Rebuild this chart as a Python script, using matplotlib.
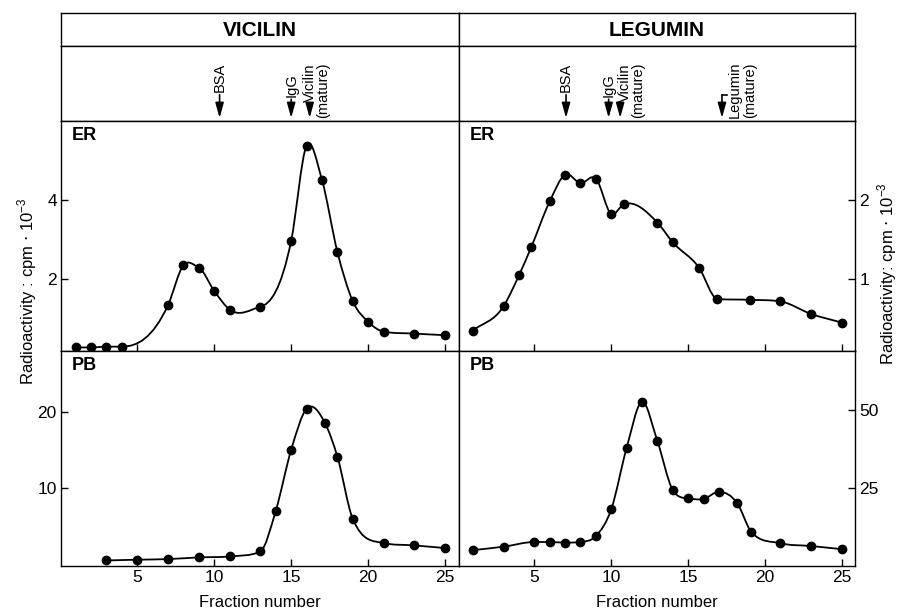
import matplotlib.pyplot as plt
from matplotlib.path import Path
from matplotlib.patches import PathPatch

plt.rcParams['font.family'] = ['Liberation Sans', 'DejaVu Sans']

# values (fraction number, cpm x 10^-3)
vic_er_x = [1, 2, 3, 4, 7, 8, 9, 10, 11, 13, 15, 16, 17, 18, 19, 20, 21, 23, 25]
vic_er_y = [0.27, 0.27, 0.29, 0.29, 1.34, 2.35, 2.29, 1.70, 1.23, 1.30, 2.97, 5.38,
            4.51, 2.69, 1.44, 0.92, 0.67, 0.62, 0.58]

vic_pb_x = [3, 5, 7, 9, 11, 13, 14, 15, 16, 17.2, 18, 19, 21, 23, 25]
vic_pb_y = [0.43, 0.53, 0.61, 0.83, 0.96, 1.62, 6.97, 15.0, 20.4, 18.5, 14.1, 5.9,
            2.72, 2.41, 2.06]

leg_er_x = [1, 3, 4, 4.8, 6, 7, 8, 9, 10, 10.8, 13, 14, 15.7, 16.9, 19, 21, 23, 25]
leg_er_y = [0.34, 0.65, 1.04, 1.40, 1.98, 2.32, 2.21, 2.27, 1.82, 1.94, 1.71, 1.46,
            1.14, 0.74, 0.73, 0.71, 0.55, 0.44]

leg_pb_x = [1, 3, 5, 6, 7, 8, 9, 10, 11, 12, 13, 14, 15, 16, 17, 18.2, 19.1, 21, 23, 25]
leg_pb_y = [5.1, 6.2, 7.7, 7.7, 7.5, 7.7, 9.6, 18.2, 37.9, 52.7, 40.1, 24.4, 21.7,
            21.5, 23.8, 20.1, 11.0, 7.3, 6.4, 5.4]

# marker positions (fraction number)
vic_markers = {'BSA': 10.35, 'IgG': 15.0, 'Vicilin': 16.2}
leg_markers = {'BSA': 7.06, 'IgG': 9.83, 'Vicilin': 10.58, 'Legumin': 17.2}


def smooth_path(x, y):
    # cubic hermite bezier through every point, slopes from neighbouring secants
    n = len(x)
    h = [x[i + 1] - x[i] for i in range(n - 1)]
    d = [(y[i + 1] - y[i]) / h[i] for i in range(n - 1)]
    m = [d[0]]
    for i in range(1, n - 1):
        s = (h[i] * d[i - 1] + h[i - 1] * d[i]) / (h[i - 1] + h[i])
        if d[i - 1] * d[i] > 0:
            # no wiggles on the monotone stretches
            lim = 3 * min(abs(d[i - 1]), abs(d[i]))
            s = max(-lim, min(lim, s))
        elif d[i - 1] == 0 or d[i] == 0:
            s = 0.0
        m.append(s)
    m.append(d[-1])
    verts = [(x[0], y[0])]
    codes = [Path.MOVETO]
    for i in range(n - 1):
        verts += [(x[i] + h[i] / 3, y[i] + m[i] * h[i] / 3),
                  (x[i + 1] - h[i] / 3, y[i + 1] - m[i + 1] * h[i] / 3),
                  (x[i + 1], y[i + 1])]
        codes += [Path.CURVE4] * 3
    return Path(verts, codes)


def draw_series(ax, x, y):
    ax.add_patch(PathPatch(smooth_path(x, y), fill=False, lw=1.3, ec='k'))
    ax.plot(x, y, 'o', color='k', ms=6, clip_on=False)


fig = plt.figure(figsize=(8.98, 6.13), dpi=100)

L0, MID, R1 = 61 / 898, 459 / 898, 855 / 898
W = MID - L0
W2 = R1 - MID
hdr_b, hdr_h = 1 - 46 / 613, 33 / 613
arr_b, arr_h = 1 - 121 / 613, 75 / 613
er_b, er_h = 1 - 351 / 613, 230 / 613
pb_b, pb_h = 1 - 566 / 613, 215 / 613

xl_left = (0.05, 25.9)
xl_right = (0.1, 25.85)
lab_fs = 10.5

cols = [(L0, W, 'VICILIN', xl_left, vic_markers, (0.05, 0.9)),
        (MID, W2, 'LEGUMIN', xl_right, leg_markers, (0.3, 1.2))]
for left, width, title, xl, markers, voff in cols:
    hax = fig.add_axes([left, hdr_b, width, hdr_h])
    hax.set_xticks([])
    hax.set_yticks([])
    hax.text(0.5, 0.48, title, ha='center', va='center', fontsize=15,
             fontweight='bold', transform=hax.transAxes)

    aax = fig.add_axes([left, arr_b, width, arr_h])
    aax.set_xlim(*xl)
    aax.set_ylim(0, 1)
    aax.set_xticks([])
    aax.set_yticks([])
    tr = aax.get_xaxis_transform()
    tops = {'BSA': 0.35, 'IgG': 0.29, 'Vicilin': 0.24, 'Legumin': 0.35}
    for name, xm in markers.items():
        aax.annotate('', xy=(xm, 0.04), xytext=(xm, tops[name]), xycoords=tr,
                     textcoords=tr,
                     arrowprops=dict(arrowstyle='-|>,head_length=0.9,head_width=0.25',
                                     color='k', lw=1.2, shrinkA=0, shrinkB=0))
        if name in ('BSA', 'IgG'):
            aax.text(xm, tops[name] + 0.03, name, rotation=90, ha='center',
                     va='bottom', fontsize=lab_fs, transform=tr)
        elif name == 'Vicilin':
            aax.text(xm + voff[0], tops[name] + 0.02, 'Vicilin', rotation=90,
                     ha='center', va='bottom', fontsize=lab_fs, transform=tr)
            aax.text(xm + voff[1], 0.04, '(mature)', rotation=90, ha='center',
                     va='bottom', fontsize=lab_fs, transform=tr)
        else:
            aax.plot([xm, xm + 0.35], [tops[name], tops[name]], color='k', lw=1.2,
                     transform=tr)
            aax.text(xm + 0.8, 0.04, 'Legumin', rotation=90, ha='center',
                     va='bottom', fontsize=lab_fs, transform=tr)
            aax.text(xm + 1.8, 0.04, '(mature)', rotation=90, ha='center',
                     va='bottom', fontsize=lab_fs, transform=tr)

ax_ver = fig.add_axes([L0, er_b, W, er_h])
ax_vpb = fig.add_axes([L0, pb_b, W, pb_h])
ax_ler = fig.add_axes([MID, er_b, W2, er_h])
ax_lpb = fig.add_axes([MID, pb_b, W2, pb_h])

draw_series(ax_ver, vic_er_x, vic_er_y)
draw_series(ax_vpb, vic_pb_x, vic_pb_y)
draw_series(ax_ler, leg_er_x, leg_er_y)
draw_series(ax_lpb, leg_pb_x, leg_pb_y)

ax_ver.set_ylim(0.18, 6.0)
ax_vpb.set_ylim(-0.3, 28)
ax_ler.set_ylim(0.08, 3.0)
ax_lpb.set_ylim(0, 69)

ax_ver.set_yticks([2, 4])
ax_vpb.set_yticks([10, 20])
ax_ler.set_yticks([1, 2])
ax_lpb.set_yticks([25, 50])

for ax, xl in [(ax_ver, xl_left), (ax_vpb, xl_left), (ax_ler, xl_right), (ax_lpb, xl_right)]:
    ax.set_xlim(*xl)
    ax.set_xticks([5, 10, 15, 20, 25])
    ax.tick_params(direction='in', length=5, width=1, labelsize=12.5, pad=3)

for ax in (ax_ver, ax_ler):
    ax.tick_params(axis='x', labelbottom=False)

for ax in (ax_ler, ax_lpb):
    ax.yaxis.tick_right()
    ax.tick_params(axis='y', direction='in', length=5, pad=3)

for ax in (ax_vpb, ax_lpb):
    ax.set_xlabel('Fraction number', fontsize=12, labelpad=7)

for ax, lab in [(ax_ver, 'ER'), (ax_vpb, 'PB'), (ax_ler, 'ER'), (ax_lpb, 'PB')]:
    ax.text(0.028, 0.975 if lab == 'ER' else 0.97, lab, transform=ax.transAxes,
            ha='left', va='top', fontsize=13, fontweight='bold')

for ax in fig.axes:
    for s in ax.spines.values():
        s.set_linewidth(1.0)

fig.text(0.03, 0.524, r'Radioactivity : cpm $\cdot$ 10$^{\mathregular{-3}}$',
         rotation=90, ha='center', va='center', fontsize=12)
fig.text(0.988, 0.553, r'Radioactivity: cpm $\cdot$ 10$^{\mathregular{-3}}$',
         rotation=90, ha='center', va='center', fontsize=12)

fig.savefig('out.png', dpi=100)
